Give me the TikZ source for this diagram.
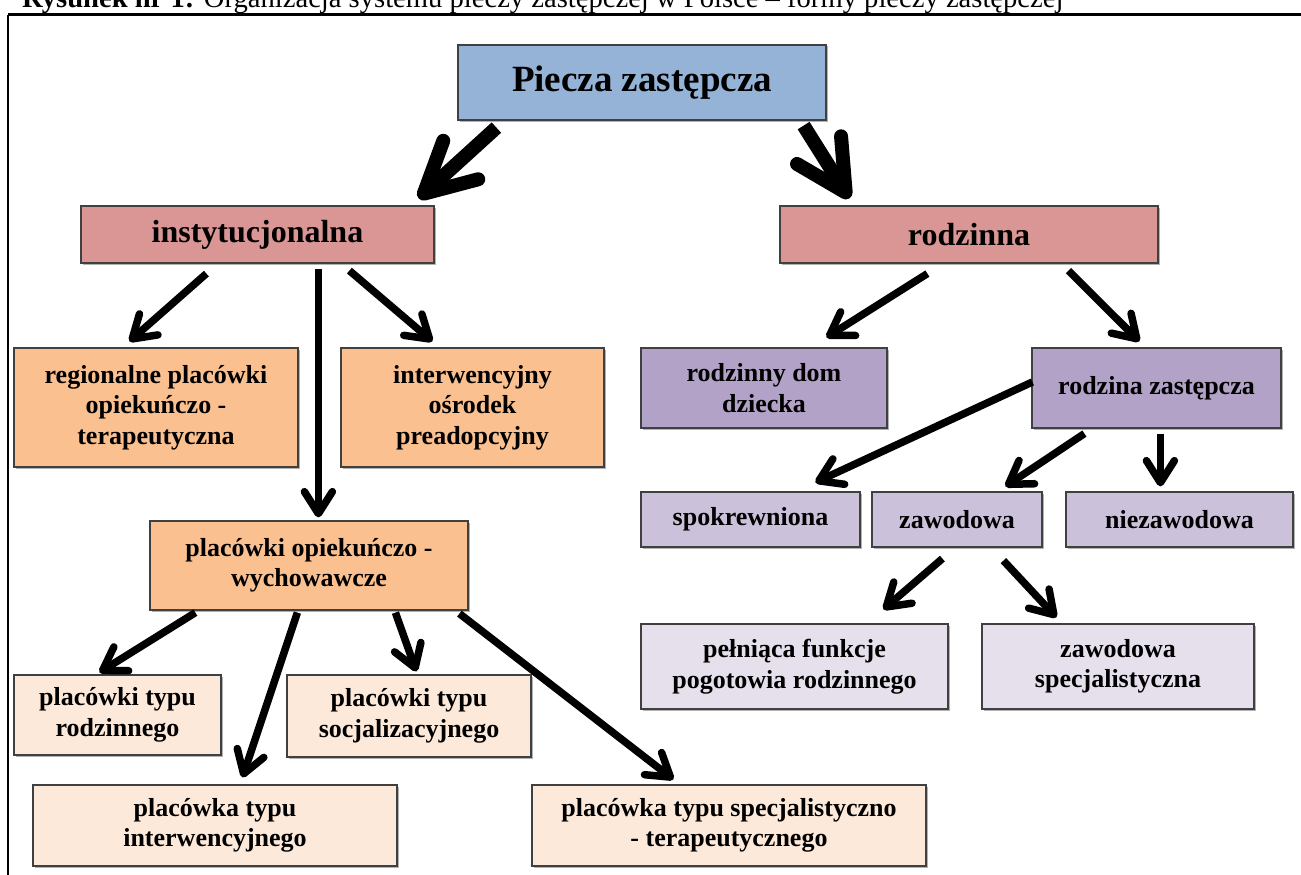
\documentclass[tikz,border=0pt]{standalone}
\usepackage{fontspec}
\setmainfont{Liberation Serif}
\usepackage{tikz}
\usetikzlibrary{arrows.meta,positioning,calc,shadows}
\definecolor{topblue}{HTML}{95B3D7}
\definecolor{formpink}{HTML}{D99694}
\definecolor{instorange}{HTML}{FAC090}
\definecolor{instpeach}{HTML}{FDE9D9}
\definecolor{famviolet}{HTML}{B3A2C7}
\definecolor{famlilac}{HTML}{CCC1DA}
\definecolor{famlight}{HTML}{E5E0EC}
\tikzstyle{box}=[draw=black!75,line width=1.2pt,inner sep=0pt,align=center,font={\bfseries\fontsize{26}{30.5}\selectfont},drop shadow={shadow xshift=1.5pt,shadow yshift=-1.5pt,opacity=0.3,fill=black}]
\tikzstyle{bigarrow}=[line width=14pt,line cap=butt,-{Straight Barb[length=50pt,width=52pt,round]}]
\tikzstyle{arrow}=[line width=7.5pt,line cap=butt,-{Straight Barb[length=22pt,width=28pt,round]}]

\begin{document}
\begin{tikzpicture}[x=1pt,y=-1pt]
\useasboundingbox (0,0) rectangle (1301,875);
\node[anchor=base west,inner sep=0pt,font={\fontsize{28.6}{34}\selectfont}] (caption) at (22,8) {\textbf{Rysunek nr 1:} Organizacja systemu pieczy zastępczej w Polsce – formy pieczy zastępczej};
\draw[line width=3pt] (8,15) -- (1301,15);
\draw[line width=1.5pt] (8,15) -- (8,875);

\node[box,fill=topblue,minimum width=368,minimum height=75,font={\bfseries\fontsize{37}{44}\selectfont}] (piecza) at (642,82.5) {Piecza zastępcza};
\node[box,fill=formpink,minimum width=353,minimum height=57,font={\bfseries\fontsize{32}{38}\selectfont}] (instyt) at (257.5,234.5) {instytucjonalna};
\node[box,fill=formpink,minimum width=378,minimum height=57,font={\bfseries\fontsize{32}{38}\selectfont}] (rodz) at (969,234.5) {rodzinna};

\node[box,fill=instorange,minimum width=284,minimum height=119] (regional) at (156,407.5) {regionalne placówki\\opiekuńczo -\\terapeutyczna};
\node[box,fill=instorange,minimum width=263,minimum height=119] (interw) at (472.5,407.5) {interwencyjny\\ośrodek\\preadopcyjny};
\node[box,fill=instorange,minimum width=318,minimum height=89] (opwych) at (309,565.5) {placówki opiekuńczo -\\wychowawcze};

\node[box,fill=instpeach,minimum width=207,minimum height=80] (typrodz) at (117.5,715) {placówki typu\\rodzinnego};
\node[box,fill=instpeach,minimum width=244,minimum height=82] (typsocj) at (409,716) {placówki typu\\socjalizacyjnego};
\node[box,fill=instpeach,minimum width=364,minimum height=81] (typinterw) at (215,825.5) {placówka typu\\interwencyjnego};
\node[box,fill=instpeach,minimum width=394,minimum height=81] (typspec) at (729,825.5) {placówka typu specjalistyczno\\- terapeutycznego};

\node[box,fill=famviolet,minimum width=246,minimum height=80] (domdz) at (764,388) {rodzinny dom\\dziecka};
\node[box,fill=famviolet,minimum width=249,minimum height=80] (rodzzast) at (1156.5,388) {rodzina zastępcza};

\node[box,fill=famlilac,minimum width=219,minimum height=55] (spokr) at (750.5,519.5) {spokrewniona};
\node[box,fill=famlilac,minimum width=170,minimum height=55] (zawod) at (957,519.5) {zawodowa};
\node[box,fill=famlilac,minimum width=227,minimum height=55] (niezaw) at (1179.5,519.5) {niezawodowa};

\node[box,fill=famlight,minimum width=307,minimum height=85] (pelniaca) at (794.5,666.5) {pełniąca funkcje\\pogotowia rodzinnego};
\node[box,fill=famlight,minimum width=272,minimum height=85] (zawspec) at (1118,666.5) {zawodowa\\specjalistyczna};

\draw[bigarrow] ($(piecza.south west)+(39,7)$) -- ($(instyt.north east)+(-16,-7)$);
\draw[bigarrow] ($(piecza.south east)+(-23,5)$) -- ($(rodz.north west)+(70,-7)$);

\draw[arrow] ($(instyt.south west)+(126,10)$) -- ($(regional.north west)+(116,-6)$);
\draw[arrow] ($(instyt.south west)+(238,5)$) -- ($(opwych.north west)+(169,-3)$);
\draw[arrow] ($(instyt.south west)+(269,7)$) -- ($(interw.north west)+(92,-6)$);

\draw[arrow] ($(rodz.south west)+(148,10)$) -- ($(domdz.north west)+(186,-10)$);
\draw[arrow] ($(rodz.south west)+(289,7)$) -- ($(rodzzast.north west)+(108,-6)$);

\draw[arrow] ($(rodzzast.west)+(1,-6)$) -- ($(spokr.north west)+(175,-9)$);
\draw[arrow] ($(rodzzast.south west)+(53,5)$) -- ($(zawod.north west)+(134,-5)$);
\draw[arrow] ($(rodzzast.south west)+(129,5)$) -- ($(niezaw.north west)+(95,-5)$);

\draw[arrow] ($(zawod.south west)+(71,11)$) -- ($(pelniaca.north west)+(243,-14)$);
\draw[arrow] ($(zawod.south west)+(132,13)$) -- ($(zawspec.north west)+(75,-6)$);

\draw[arrow] ($(opwych.south west)+(46,2)$) -- ($(typrodz.north west)+(86,-2)$);
\draw[arrow] ($(opwych.south west)+(148,2)$) -- ($(typinterw.north west)+(210,-7)$);
\draw[arrow] ($(opwych.south west)+(246,2)$) -- ($(typsocj.north west)+(130,-3)$);
\draw[arrow] ($(opwych.south west)+(310,3)$) -- ($(typspec.north west)+(142,-5)$);
\end{tikzpicture}
\end{document}
